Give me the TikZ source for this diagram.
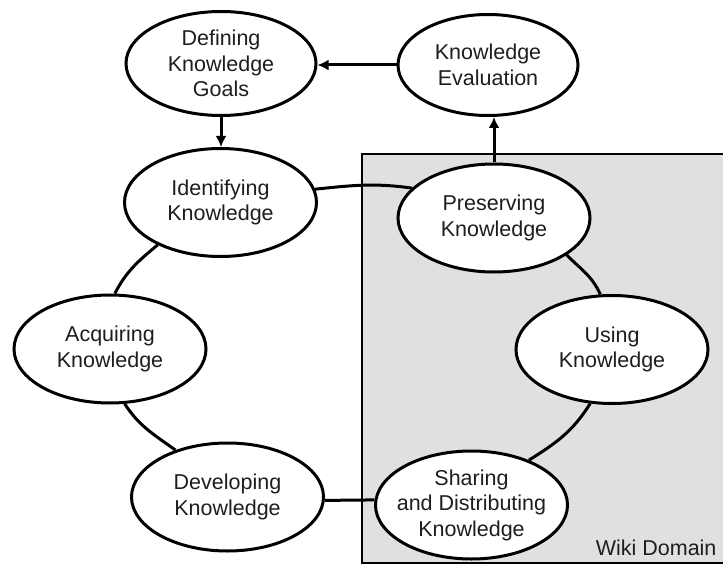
\documentclass[tikz,border=0pt]{standalone}
\usepackage{fontspec}
\setmainfont{Liberation Sans}
\usetikzlibrary{shapes.geometric,arrows.meta}
\definecolor{boxgray}{RGB}{224,224,224}
\definecolor{txtgray}{RGB}{30,30,30}
\begin{document}
\begin{tikzpicture}[x=1pt,y=1pt,
  lbl/.style={text=txtgray, font=\fontsize{21.5}{25.5}\selectfont},
  kn/.style={lbl, ellipse, draw=black, line width=3pt, fill=white, inner sep=-30pt,
    minimum width=192pt, minimum height=108pt, align=center},
  link/.style={draw=black, line width=3pt},
  arr/.style={link, -{Latex[length=11pt,width=11pt]}},
]
\useasboundingbox (0,0) rectangle (723,-567);
% wiki domain box
\draw[fill=boxgray, line width=2.4pt] (362,-154) rectangle (730,-563);

% nodes
\node[kn, minimum width=190pt, minimum height=104pt] (def) at (221,-63.5) {Defining\\Knowledge\\Goals};
\node[kn, minimum width=180pt, minimum height=101pt] (eval) at (488,-65) {Knowledge\\Evaluation};
\node[kn] (ident) at (220.5,-202.5) {Identifying\\Knowledge};
\node[kn] (pres) at (494,-218) {Preserving\\Knowledge};
\node[kn] (using) at (612,-349.5) {Using\\Knowledge};
\node[kn] (share) at (471.5,-505) {Sharing\\and Distributing\\Knowledge};
\node[kn] (dev) at (227.5,-497) {Developing\\Knowledge};
\node[kn] (acq) at (110,-349) {Acquiring\\Knowledge};
\node[lbl, anchor=base east] (wiki) at (720,-555) {Wiki Domain};

% ring connectors
\draw[link] (ident.8) to[out=6,in=172] (pres.160);
\draw[link] (pres.-27) to[out=-45,in=114] (using.102);
\draw[link] (using.-112) to[out=238,in=32] (share.38);
\draw[link] (share.177) -- (dev.-2);
\draw[link] (dev.138) to[out=144,in=-57] (acq.-75);
\draw[link] (acq.85) to[out=63,in=220] (ident.214);

% arrows
\draw[arr] (eval.west) -- (eval.west -| def.east);
\draw[arr] (def.south) -- (def.south |- ident.north);
\draw[arr] (pres.north) -- (pres.north |- eval.south);
\end{tikzpicture}
\end{document}
